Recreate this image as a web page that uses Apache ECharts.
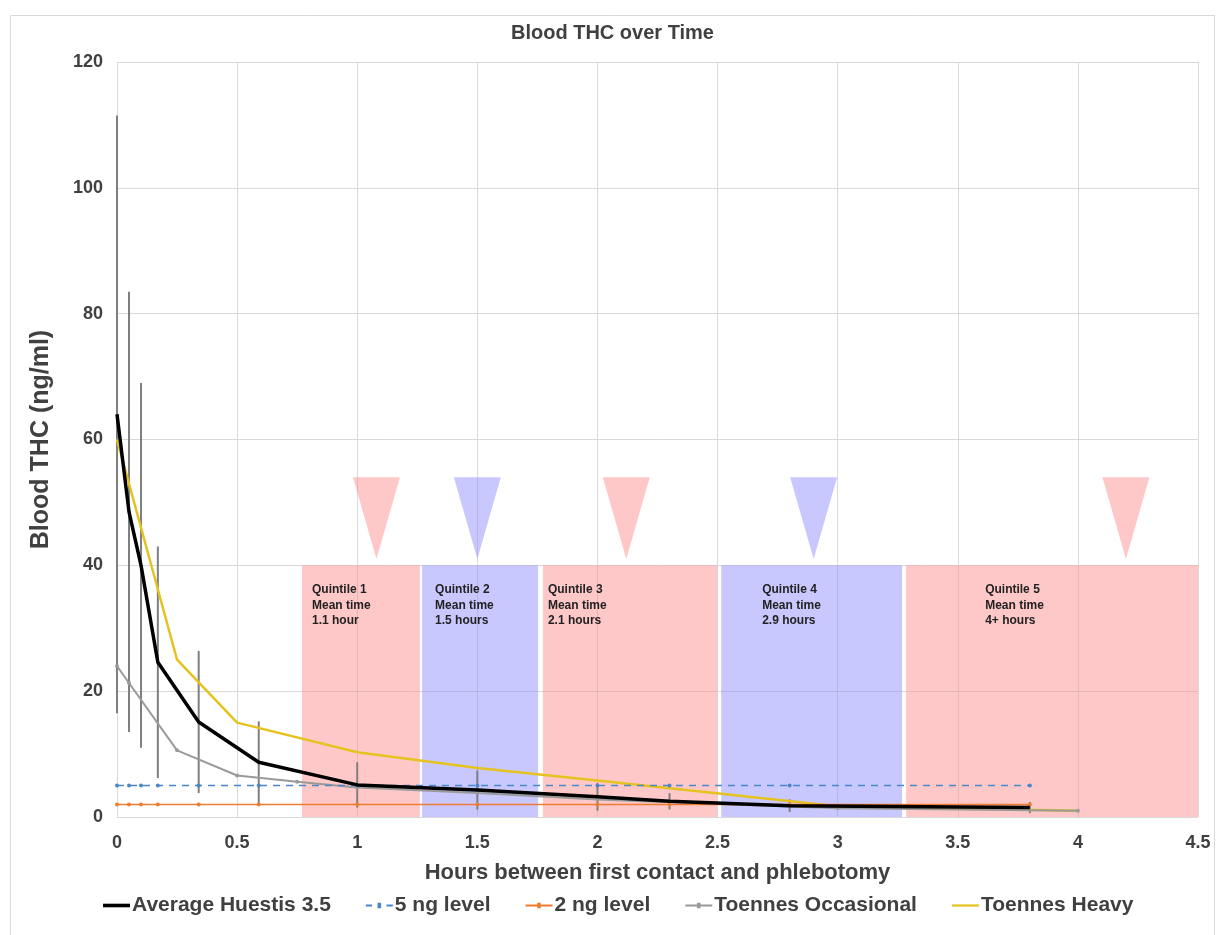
<!DOCTYPE html>
<html><head><meta charset="utf-8">
<script src="https://cdn.jsdelivr.net/npm/echarts@6/dist/echarts.min.js"></script>
<style>html,body{margin:0;padding:0;background:#fff}#c{width:1225px;height:935px}</style>
</head><body><div id="c"></div>
<script>
// ---- data ----
const chartTitle = 'Blood THC over Time';
const xAxisName = 'Hours between first contact and phlebotomy';
const yAxisName = 'Blood THC (ng/ml)';
const seriesNames = ['Average Huestis 3.5', '5 ng level', '2 ng level', 'Toennes Occasional', 'Toennes Heavy'];

const huestisTime = [0, 0.05, 0.1, 0.17, 0.34, 0.59, 1.0, 1.5, 2.0, 2.3, 2.8, 3.8];
const huestisMean = [64, 48.5, 40, 24.6, 15.1, 8.7, 5.1, 4.3, 3.2, 2.5, 1.8, 1.5];
const huestisSD   = [47.5, 35, 29, 18.4, 11.3, 6.5, 3.6, 3.1, 2.2, 1.3, 1.0, 0.9];

const level5 = [5, 5, 5, 5, 5, 5, 5, 5, 5, 5, 5, 5];
const level2 = [2, 2, 2, 2, 2, 2, 2, 2, 2, 2, 2, 2];

const occTime  = [0, 0.05, 0.25, 0.5, 0.75, 1.0, 1.5, 2.0, 3.0, 4.0];
const occValue = [24, 21.3, 10.6, 6.6, 5.6, 4.7, 3.8, 2.8, 1.4, 1.0];

const heavyTime  = [0, 0.25, 0.5, 1.0, 1.5, 2.0, 3.0, 4.0];
const heavyValue = [60, 25, 15, 10.3, 7.8, 5.8, 1.7, 1.0];

const quintileStart = [0.77, 1.27, 1.773, 2.515, 3.285];
const quintileEnd   = [1.261, 1.753, 2.498, 3.268, 4.5];
const quintileTop   = [40, 40, 40, 40, 40];
const quintileMean  = [1.08, 1.5, 2.12, 2.9, 4.2];
const quintileText  = [
  'Quintile 1\nMean time\n1.1 hour',
  'Quintile 2\nMean time\n1.5 hours',
  'Quintile 3\nMean time\n2.1 hours',
  'Quintile 4\nMean time\n2.9 hours',
  'Quintile 5\nMean time\n4+ hours'
];

const xTicks = {min: 0, max: 4.5, interval: 0.5};
const yTicks = {min: 0, max: 120, interval: 20};

// ---- styles ----
const PINK = 'rgba(255,145,145,0.5)';
const BLUE = 'rgba(145,145,255,0.5)';
const quintileColor = [PINK, BLUE, PINK, BLUE, PINK];
const labelDx = [10, 13, 5, 41, 79];
const labelDy = 17;
const triTopVal = 54, triTipVal = 41, triHalfPx = 23.5;
const TXT = '#404040';
const FONT = 'Liberation Sans, Arial, sans-serif';

const ICON_THICK = 'path://M0,3 L30,3 L30,7 L0,7 Z';
const ICON_MARK = 'path://M0,4 L30,4 L30,6 L0,6 Z M13,2 L17,2 L17,8 L13,8 Z';
const ICON_DASH = 'path://M0,4 L7,4 L7,6 L0,6 Z M13,2 L17,2 L17,8 L13,8 Z M23,4 L30,4 L30,6 L23,6 Z';
const ICON_THIN = 'path://M0,4 L30,4 L30,6.5 L0,6.5 Z';
const legendIcons = [ICON_THICK, ICON_DASH, ICON_MARK, ICON_MARK, ICON_THIN];

const zip = (a, b) => a.map((v, i) => [v, b[i]]);

const chart = echarts.init(document.getElementById('c'), null, {renderer: 'canvas'});

const option = {
  animation: false,
  backgroundColor: '#fff',
  title: {
    text: chartTitle, left: 'center', top: 18,
    textStyle: {fontFamily: FONT, fontSize: 20, fontWeight: 'bold', color: TXT}
  },
  graphic: [{
    type: 'rect', shape: {x: 10.5, y: 15.5, width: 1204, height: 940},
    style: {fill: 'none', stroke: '#d9d9d9', lineWidth: 1}, silent: true, z: -10
  }],
  grid: {left: 117, right: 27, top: 62, bottom: 118},
  legend: {
    data: seriesNames.map((n, i) => ({name: n, icon: legendIcons[i]})),
    bottom: 14, left: 98,
    itemWidth: 27, itemHeight: 9, itemGap: 35,
    textStyle: {fontFamily: FONT, fontSize: 21, fontWeight: 'bold', color: TXT, padding: [0, 0, 0, -3]}
  },
  xAxis: {
    type: 'value', min: xTicks.min, max: xTicks.max, interval: xTicks.interval,
    name: xAxisName, nameLocation: 'middle', nameGap: 45,
    nameTextStyle: {fontFamily: FONT, fontSize: 22, fontWeight: 'bold', color: TXT},
    axisLine: {show: false}, axisTick: {show: false},
    axisLabel: {fontFamily: FONT, fontSize: 18, fontWeight: 'bold', color: TXT, margin: 17},
    splitLine: {show: true, lineStyle: {color: '#d9d9d9', width: 1}}
  },
  yAxis: {
    type: 'value', min: yTicks.min, max: yTicks.max, interval: yTicks.interval,
    name: yAxisName, nameLocation: 'middle', nameGap: 63, nameRotate: 90,
    nameTextStyle: {fontFamily: FONT, fontSize: 25, fontWeight: 'bold', color: TXT},
    axisLine: {show: false}, axisTick: {show: false},
    axisLabel: {fontFamily: FONT, fontSize: 18, fontWeight: 'bold', color: TXT, margin: 14},
    splitLine: {show: true, lineStyle: {color: '#d9d9d9', width: 1}}
  },
  series: [
    {
      name: 'quintiles', type: 'custom', z: 1, silent: true,
      data: quintileStart.map((s, i) => [s, quintileEnd[i], quintileTop[i], i]),
      encode: {x: [0, 1], y: 2},
      renderItem: function (params, api) {
        const i = api.value(3);
        const p0 = api.coord([api.value(0), api.value(2)]);
        const p1 = api.coord([api.value(1), 0]);
        return {
          type: 'group',
          children: [
            {type: 'rect', shape: {x: p0[0], y: p0[1], width: p1[0] - p0[0], height: p1[1] - p0[1]},
             style: {fill: quintileColor[i]}},
            {type: 'text', x: p0[0] + labelDx[i], y: p0[1] + labelDy,
             style: {text: quintileText[i], fill: '#222', font: 'bold 12px ' + FONT, lineHeight: 15.5,
                     align: 'left', verticalAlign: 'top'}}
          ]
        };
      }
    },
    {
      name: 'markers', type: 'custom', z: 1, silent: true,
      data: quintileMean.map((m, i) => [m, triTopVal, i]),
      encode: {x: 0, y: 1},
      renderItem: function (params, api) {
        const i = api.value(2);
        const top = api.coord([api.value(0), triTopVal]);
        const tip = api.coord([api.value(0), triTipVal]);
        return {
          type: 'polygon',
          shape: {points: [[top[0] - triHalfPx, top[1]], [top[0] + triHalfPx, top[1]], [tip[0], tip[1]]]},
          style: {fill: quintileColor[i]}
        };
      }
    },
    {
      name: 'errorbars', type: 'custom', z: 2, silent: true,
      data: huestisTime.map((t, i) => [t, huestisMean[i] - huestisSD[i], huestisMean[i] + huestisSD[i]]),
      encode: {x: 0, y: [1, 2]},
      renderItem: function (params, api) {
        const a = api.coord([api.value(0), api.value(1)]);
        const b = api.coord([api.value(0), api.value(2)]);
        return {type: 'line', shape: {x1: a[0], y1: a[1], x2: b[0], y2: b[1]},
                style: {stroke: '#7f7f7f', lineWidth: 2}};
      }
    },
    {
      name: seriesNames[4], type: 'line', z: 3, data: zip(heavyTime, heavyValue),
      symbol: 'none', color: '#E6C21E', lineStyle: {color: '#E6C21E', width: 2.5}
    },
    {
      name: seriesNames[3], type: 'line', z: 3, data: zip(occTime, occValue),
      symbol: 'circle', symbolSize: 4, color: '#9a9a9a', lineStyle: {color: '#9a9a9a', width: 2}
    },
    {
      name: seriesNames[2], type: 'line', z: 3, data: zip(huestisTime, level2),
      symbol: 'circle', symbolSize: 4, color: '#ED7D31', lineStyle: {color: '#ED7D31', width: 1.5}
    },
    {
      name: seriesNames[1], type: 'line', z: 3, data: zip(huestisTime, level5),
      symbol: 'circle', symbolSize: 4, color: '#4A86C8', lineStyle: {color: '#4A86C8', width: 1.5, type: [7, 6]}
    },
    {
      name: seriesNames[0], type: 'line', z: 4, data: zip(huestisTime, huestisMean),
      symbol: 'none', color: '#000', lineStyle: {color: '#000', width: 3.5}
    }
  ]
};
chart.setOption(option);
</script>
</body></html>
